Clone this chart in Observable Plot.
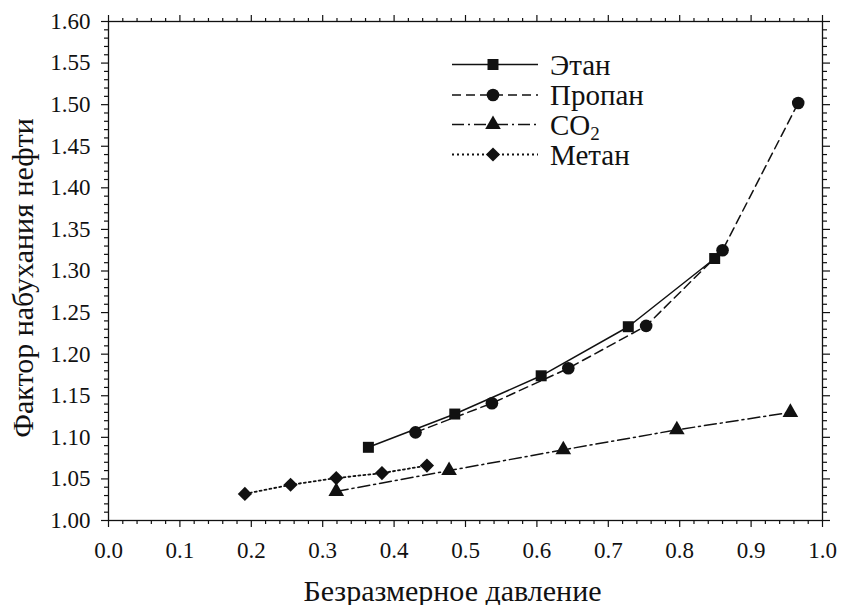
<!DOCTYPE html>
<html>
<head>
<meta charset="utf-8">
<script src="https://cdn.jsdelivr.net/npm/d3@7"></script>
<script src="https://cdn.jsdelivr.net/npm/@observablehq/plot@0.6"></script>
<style>
  body { margin: 0; background: #fff; }
  #chart { position: relative; width: 841px; height: 605px; }
  #legend { position: absolute; left: 0; top: 0; pointer-events: none; }
</style>
</head>
<body>
<div id="chart"></div>
<script>
// Swelling factor versus dimensionless pressure, four injected gases
const ethaneX = [0.364, 0.485, 0.606, 0.728, 0.849];
const ethaneY = [1.088, 1.128, 1.174, 1.233, 1.315];
const propaneX = [0.430, 0.537, 0.644, 0.753, 0.860, 0.966];
const propaneY = [1.106, 1.141, 1.183, 1.234, 1.325, 1.502];
const co2X = [0.319, 0.477, 0.637, 0.796, 0.955];
const co2Y = [1.035, 1.060, 1.085, 1.109, 1.130];
const methaneX = [0.191, 0.255, 0.319, 0.383, 0.446];
const methaneY = [1.032, 1.043, 1.051, 1.057, 1.066];

const xTicks = [0.0, 0.1, 0.2, 0.3, 0.4, 0.5, 0.6, 0.7, 0.8, 0.9, 1.0];
const yTicks = [1.00, 1.05, 1.10, 1.15, 1.20, 1.25, 1.30, 1.35, 1.40, 1.45, 1.50, 1.55, 1.60];
const xTitle = "Безразмерное давление";
const yTitle = "Фактор набухания нефти";
const seriesNames = ["Этан", "Пропан", "CO", "Метан"];

const FONT = "'Liberation Serif', 'Times New Roman', serif";
const INK = "#111";

const series = [
  { name: seriesNames[0], sub: null, xs: ethaneX, ys: ethaneY, symbol: "square", r: 6.2, dash: null, width: 1.5 },
  { name: seriesNames[1], sub: null, xs: propaneX, ys: propaneY, symbol: "circle", r: 6.3, dash: "9,5", width: 1.5 },
  { name: seriesNames[2], sub: "2", xs: co2X, ys: co2Y, symbol: "triangle", r: 5.8, dash: "12,4,2,4", width: 1.5 },
  { name: seriesNames[3], sub: null, xs: methaneX, ys: methaneY, symbol: "diamond2", r: 6.4, dash: "2,3", width: 1.8 }
];
series.forEach(s => s.points = d3.zip(s.xs, s.ys));

// minor ticks between the labelled ones
const xMinor = d3.range(0, 51).map(i => i / 50).filter(v => Math.round(v * 50) % 5 !== 0);
const yMinor = d3.range(0, 61).map(i => 1 + i / 100).filter((v, i) => i % 5 !== 0);

const marks = [];
for (const s of series) {
  marks.push(Plot.line(s.points, {
    x: d => d[0], y: d => d[1],
    stroke: INK, strokeWidth: s.width,
    strokeDasharray: s.dash ?? undefined
  }));
}
for (const s of series) {
  marks.push(Plot.dot(s.points, {
    x: d => d[0], y: d => d[1],
    symbol: s.symbol, r: s.r, fill: INK, stroke: "none"
  }));
}

marks.push(
  Plot.frame({ stroke: INK, strokeWidth: 1.3 }),
  // bottom
  Plot.axisX({ anchor: "bottom", ticks: xTicks, tickSize: 7, tickPadding: 14, tickFormat: d => d.toFixed(1), label: null, strokeWidth: 1.2, fontSize: 23 }),
  Plot.axisX({ anchor: "bottom", ticks: xMinor, tickSize: 4, fill: "none", label: null, strokeWidth: 1.2 }),
  // top
  Plot.axisX({ anchor: "top", ticks: xTicks, tickSize: 7, fill: "none", label: null, strokeWidth: 1.2 }),
  Plot.axisX({ anchor: "top", ticks: xMinor, tickSize: 4, fill: "none", label: null, strokeWidth: 1.2 }),
  // left
  Plot.axisY({ anchor: "left", ticks: yTicks, tickSize: 7, tickPadding: 11, tickFormat: d => d.toFixed(2), label: null, strokeWidth: 1.2, fontSize: 23 }),
  Plot.axisY({ anchor: "left", ticks: yMinor, tickSize: 4, fill: "none", label: null, strokeWidth: 1.2 }),
  // right
  Plot.axisY({ anchor: "right", ticks: yTicks, tickSize: 7, fill: "none", label: null, strokeWidth: 1.2 }),
  Plot.axisY({ anchor: "right", ticks: yMinor, tickSize: 4, fill: "none", label: null, strokeWidth: 1.2 }),
  // axis titles
  Plot.text([xTitle], { text: d => d, frameAnchor: "bottom", dy: 80, dx: -13, lineAnchor: "bottom", textAnchor: "middle", fontSize: 30, fill: INK }),
  Plot.text([yTitle], { text: d => d, frameAnchor: "left", dx: -85, dy: 7, rotate: -90, textAnchor: "middle", fontSize: 30, fill: INK })
);

const chart = Plot.plot({
  width: 841,
  height: 605,
  marginLeft: 108,
  marginRight: 19,
  marginTop: 21,
  marginBottom: 85,
  x: { domain: [0, 1], axis: null },
  y: { domain: [1.0, 1.6], axis: null },
  style: { fontFamily: FONT, color: INK, background: "#fff", overflow: "visible" },
  marks
});

const host = document.getElementById("chart");
host.appendChild(chart);

// Legend drawn over the upper part of the plotting area
const legend = d3.select(host).append("svg")
  .attr("id", "legend")
  .attr("width", 841).attr("height", 605);

const rowY = [64.5, 95, 124.5, 154.5];
const lineX0 = 452, lineX1 = 538, markX = 493, textX = 550;

series.forEach((s, i) => {
  const g = legend.append("g").attr("transform", `translate(0,${rowY[i]})`);
  g.append("line")
    .attr("x1", lineX0).attr("x2", lineX1)
    .attr("stroke", INK).attr("stroke-width", s.width)
    .attr("stroke-dasharray", s.dash);
  const symType = { square: d3.symbolSquare, circle: d3.symbolCircle, triangle: d3.symbolTriangle, diamond2: d3.symbolDiamond2 }[s.symbol];
  g.append("path")
    .attr("transform", `translate(${markX},0)`)
    .attr("d", d3.symbol(symType, Math.PI * s.r * s.r)())
    .attr("fill", INK);
  const t = g.append("text")
    .attr("x", textX).attr("y", 10)
    .attr("font-family", FONT).attr("font-size", 29).attr("fill", INK)
    .text(s.name);
  if (s.sub) {
    t.append("tspan").attr("dy", 5).attr("font-size", 19).text(s.sub);
  }
});
</script>
</body>
</html>
